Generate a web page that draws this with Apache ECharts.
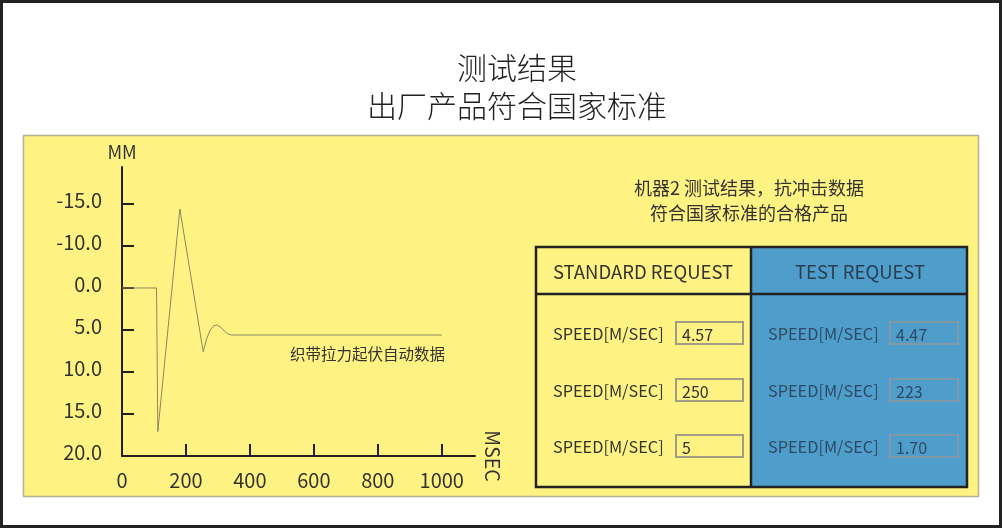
<!DOCTYPE html>
<html>
<head>
<meta charset="utf-8">
<script src="https://cdn.jsdelivr.net/npm/echarts@6/dist/echarts.min.js"></script>
<style>
html,body{margin:0;padding:0;background:#fff;}
#main{width:1002px;height:528px;}
</style>
</head>
<body>
<div id="main"></div>
<script>
// ---- data ----
const titleLines = ['测试结果', '出厂产品符合国家标准'];
const timeMs = [0, 108, 112, 181, 254, 265, 276, 287, 298, 310, 322, 333, 343, 1000];
const displacement = [0, 0, 17.1, -9.4, 7.6, 6.0, 5.0, 4.5, 4.4, 4.7, 5.2, 5.5, 5.6, 5.6];
const xTickValues = [200, 400, 600, 800, 1000];
const xLabelValues = [0, 200, 400, 600, 800, 1000];
const yTickValues = [-10, -5, 0, 5, 10, 15, 20];
const yTickLabels = ['-15.0', '-10.0', '0.0', '5.0', '10.0', '15.0', '20.0'];
const seriesLabel = '织带拉力起伏自动数据';
const captionLines = ['机器2 测试结果，抗冲击数据', '符合国家标准的合格产品'];
const tableHeaders = ['STANDARD REQUEST', 'TEST REQUEST'];
const rowLabel = 'SPEED[M/SEC]';
const standardValues = ['4.57', '250', '5'];
const testValues = ['4.47', '223', '1.70'];

// ---- styles ----
const FONT = '"Noto Sans CJK SC", "Noto Sans", sans-serif';
const YELLOW = '#fef283';
const BLUE = '#4f9dcb';
const TXT = '#333';

const chart = echarts.init(document.getElementById('main'), null, {renderer: 'canvas'});

const graphics = [
  {type: 'rect', z: -10, shape: {x: 1.5, y: 1.5, width: 999, height: 525}, style: {fill: '#fff', stroke: '#222', lineWidth: 3}},
  {type: 'rect', z: -9, shape: {x: 23.5, y: 135.5, width: 955, height: 361}, style: {fill: YELLOW, stroke: '#b5b18f', lineWidth: 1.5}},
  {type: 'text', x: 445, y: 354, style: {text: seriesLabel, font: '15.5px ' + FONT, fill: TXT, align: 'right', verticalAlign: 'middle'}},
  {type: 'text', x: 749, y: 188, style: {text: captionLines[0], font: '18px ' + FONT, fill: TXT, align: 'center', verticalAlign: 'middle'}},
  {type: 'text', x: 749, y: 213, style: {text: captionLines[1], font: '18px ' + FONT, fill: TXT, align: 'center', verticalAlign: 'middle'}},
  {type: 'rect', shape: {x: 536, y: 247, width: 215, height: 240}, style: {fill: YELLOW}},
  {type: 'rect', shape: {x: 751, y: 247, width: 216, height: 240}, style: {fill: BLUE}},
  {type: 'rect', shape: {x: 536, y: 247, width: 431, height: 240}, style: {fill: 'none', stroke: '#222', lineWidth: 2.5}},
  {type: 'line', shape: {x1: 751, y1: 247, x2: 751, y2: 487}, style: {stroke: '#222', lineWidth: 2.5}},
  {type: 'line', shape: {x1: 536, y1: 294, x2: 967, y2: 294}, style: {stroke: '#222', lineWidth: 2.5}},
  {type: 'text', x: 643, y: 272, style: {text: tableHeaders[0], font: '18.5px ' + FONT, fill: TXT, align: 'center', verticalAlign: 'middle'}},
  {type: 'text', x: 860, y: 272, style: {text: tableHeaders[1], font: '18.5px ' + FONT, fill: '#2b3d50', align: 'center', verticalAlign: 'middle'}}
];
const rowY = [334, 391, 447];
rowY.forEach((y, i) => {
  graphics.push(
    {type: 'text', x: 553, y: y, style: {text: rowLabel, font: '16.3px ' + FONT, fill: TXT, align: 'left', verticalAlign: 'middle'}},
    {type: 'rect', shape: {x: 676, y: y - 12, width: 67, height: 22}, style: {fill: 'none', stroke: '#a09c86', lineWidth: 2}},
    {type: 'text', x: 682, y: y + 1, style: {text: standardValues[i], font: '16px ' + FONT, fill: TXT, align: 'left', verticalAlign: 'middle'}},
    {type: 'text', x: 768, y: y, style: {text: rowLabel, font: '16.3px ' + FONT, fill: '#2f4a63', align: 'left', verticalAlign: 'middle'}},
    {type: 'rect', shape: {x: 890, y: y - 12, width: 68, height: 22}, style: {fill: 'none', stroke: '#8497a6', lineWidth: 2}},
    {type: 'text', x: 896, y: y + 1, style: {text: testValues[i], font: '16px ' + FONT, fill: '#2f4a63', align: 'left', verticalAlign: 'middle'}}
  );
});

chart.setOption({
  animation: false,
  backgroundColor: 'transparent',
  title: {
    text: titleLines.join('\n'),
    left: 512,
    textAlign: 'center',
    top: 44,
    textStyle: {fontFamily: FONT, fontSize: 30, fontWeight: 300, color: '#222', lineHeight: 38}
  },
  grid: {left: 122, top: 167, right: 527, bottom: 72, containLabel: false},
  xAxis: {
    type: 'value',
    min: 0,
    max: 1104,
    name: 'MSEC',
    nameLocation: 'end',
    nameRotate: -90,
    nameGap: 17,
    nameTextStyle: {fontFamily: FONT, fontSize: 19.5, color: TXT, verticalAlign: 'middle', align: 'center'},
    axisLine: {show: true, onZero: false, lineStyle: {color: '#222', width: 2}},
    axisTick: {show: true, inside: true, length: 12, customValues: xTickValues, lineStyle: {color: '#222', width: 2}},
    axisLabel: {show: true, customValues: xLabelValues, margin: 14, fontFamily: FONT, fontSize: 20, color: TXT, formatter: v => String(v)},
    splitLine: {show: false}
  },
  yAxis: {
    type: 'value',
    inverse: true,
    min: -14.4,
    max: 20,
    name: 'MM',
    nameLocation: 'start',
    nameGap: 6,
    nameTextStyle: {fontFamily: FONT, fontSize: 18, color: TXT},
    axisLine: {show: true, onZero: false, lineStyle: {color: '#222', width: 2}},
    axisTick: {show: true, inside: true, length: 12, customValues: yTickValues, lineStyle: {color: '#222', width: 2}},
    axisLabel: {
      show: true, customValues: yTickValues, margin: 20, fontFamily: FONT, fontSize: 20, color: TXT,
      verticalAlign: 'bottom', lineHeight: 8,
      formatter: v => { const i = yTickValues.indexOf(v); return i >= 0 ? yTickLabels[i] : ''; }
    },
    splitLine: {show: false}
  },
  series: [{
    type: 'line',
    data: timeMs.map((t, i) => [t, displacement[i]]),
    symbol: 'none',
    lineStyle: {color: '#8c8766', width: 1},
    silent: true
  }],
  graphic: graphics
});
</script>
</body>
</html>
